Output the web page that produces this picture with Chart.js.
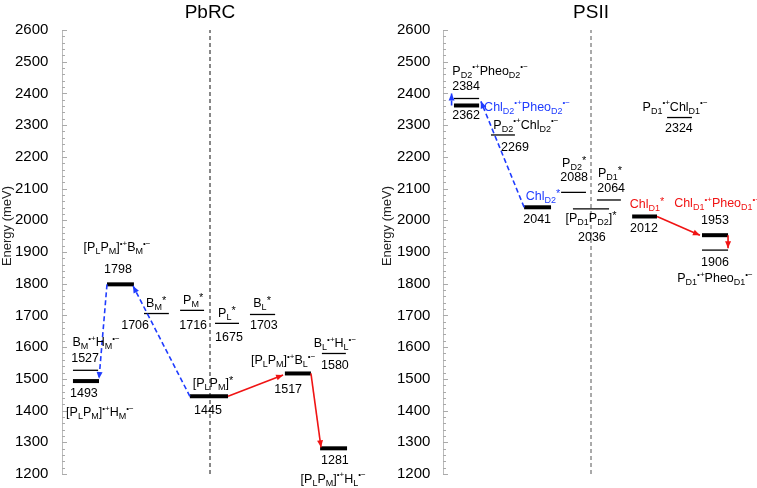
<!DOCTYPE html>
<html>
<head>
<meta charset="utf-8">
<script src="https://cdn.jsdelivr.net/npm/chart.js@4.4.1/dist/chart.umd.min.js"></script>
<style>
  body { margin: 0; background: #fff; }
  #wrap { position: relative; width: 757px; height: 488px; }
  canvas { position: absolute; top: 0; }
</style>
</head>
<body>
<div id="wrap">
  <canvas id="pbrc" width="380" height="488" style="left:0"></canvas>
  <canvas id="psii" width="377" height="488" style="left:380px"></canvas>
</div>
<script>
// ---- data ----
const yTicks = [1200, 1300, 1400, 1500, 1600, 1700, 1800, 1900, 2000, 2100, 2200, 2300, 2400, 2500, 2600];

const pbrcStates = [
    '[P_{L}P_{M}]^{•+}H_{M}^{•−}',
    'B_{M}^{•+}H_{M}^{•−}',
    '[P_{L}P_{M}]^{•+}B_{M}^{•−}',
    'B_{M}^{*}',
    'P_{M}^{*}',
    'P_{L}^{*}',
    'B_{L}^{*}',
    '[P_{L}P_{M}]^{*}',
    '[P_{L}P_{M}]^{•+}B_{L}^{•−}',
    'B_{L}^{•+}H_{L}^{•−}',
    '[P_{L}P_{M}]^{•+}H_{L}^{•−}'
];
const pbrcEnergy = [1493, 1527, 1798, 1706, 1716, 1675, 1703, 1445, 1517, 1580, 1281];

const psiiStates = [
    'P_{D2}^{•+}Pheo_{D2}^{•−}',
    'Chl_{D2}^{•+}Pheo_{D2}^{•−}',
    'P_{D2}^{•+}Chl_{D2}^{•−}',
    'Chl_{D2}^{*}',
    'P_{D2}^{*}',
    '[P_{D1}P_{D2}]^{*}',
    'P_{D1}^{*}',
    'Chl_{D1}^{*}',
    'P_{D1}^{•+}Chl_{D1}^{•−}',
    'Chl_{D1}^{•+}Pheo_{D1}^{•−}',
    'P_{D1}^{•+}Pheo_{D1}^{•−}'
];
const psiiEnergy = [2384, 2362, 2269, 2041, 2088, 2036, 2064, 2012, 2324, 1953, 1906];

// ---- layout (x positions on a 0..100 scale, label anchors) ----
const BLUE = '#1f3cff';
const RED = '#f01414';

const pbrcLayout = {
    cols: [[3.7, 12.5], [3.7, 12.2], [15.2, 24.3], [27.7, 36.1], [39.9, 48.0], [51.7, 59.8],
           [63.5, 72.0], [43.2, 56.1], [75.3, 84.1], [87.8, 95.9], [87.2, 96.3]],
    thick: [1, 0, 1, 0, 0, 0, 0, 1, 1, 0, 1],
    nameAt: [[12.8, 1393], [11.5, 1614], [18.6, 1914], [31.8, 1737], [44.3, 1747], [55.7, 1706],
             [67.6, 1737], [51.0, 1484], [74.7, 1557], [92.2, 1611], [91.6, 1184]],
    valueAt: [[7.4, 1453], [7.8, 1563], [18.9, 1845], [24.7, 1668], [44.3, 1668], [56.4, 1630],
              [68.2, 1668], [49.3, 1399], [76.4, 1465], [92.2, 1541], [92.2, 1241]],
    nameColor: [],
    // from state, side, to state, side, dx, dy
    arrows: [
        { a: 2, as: 0, b: 0, bs: 1, dx: 0, dy: 7, color: BLUE, dash: true },
        { a: 7, as: 0, b: 2, bs: 1, dx: -0.3, dy: -5, color: BLUE, dash: true },
        { a: 7, as: 1, b: 8, bs: 0, dx: -0.6, dy: -5, color: RED, dash: false },
        { a: 8, as: 1, b: 10, bs: 0, dx: 0.3, dy: 3, color: RED, dash: false }
    ],
    dashColor: '#111'
};

const psiiLayout = {
    cols: [[3.7, 12.2], [3.7, 12.2], [16.2, 24.3], [27.4, 36.5], [39.9, 48.3], [43.9, 56.1],
           [52.0, 60.1], [63.9, 72.3], [75.7, 84.1], [87.5, 96.3], [87.5, 96.3]],
    thick: [0, 1, 0, 1, 0, 0, 0, 1, 0, 1, 0],
    nameAt: [[15.9, 2470], [28.4, 2357], [28.0, 2300], [33.8, 2075], [44.3, 2180], [50.0, 2006],
             [56.4, 2148], [68.9, 2050], [78.4, 2357], [92.6, 2053], [91.9, 1816]],
    valueAt: [[7.8, 2423], [7.8, 2331], [24.3, 2230], [31.8, 2003], [44.3, 2135], [50.3, 1946],
              [56.8, 2101], [67.9, 1974], [79.7, 2290], [91.9, 2000], [91.9, 1867]],
    nameColor: [null, BLUE, null, BLUE, null, null, null, RED, null, RED, null],
    arrows: [
        { a: 3, as: 0, b: 1, bs: 1, dx: 0.6, dy: 13, color: BLUE, dash: true },
        { a: 1, as: 0, b: 1, bs: 0, dx: -0.8, dy: 38, dxa: -0.8, color: BLUE, dash: true },
        { a: 7, as: 1, b: 9, bs: 0, dx: -0.7, dy: 0, color: RED, dash: false },
        { a: 9, as: 1, b: 9, bs: 1, dx: 0, dy: -41, color: RED, dash: false }
    ],
    dashColor: '#555'
};

const FONT = '"Liberation Sans", Arial, sans-serif';

function richParts(s) {
    const parts = [];
    let i = 0;
    while (i < s.length) {
        if ((s[i] === '_' || s[i] === '^') && s[i + 1] === '{') {
            const j = s.indexOf('}', i);
            parts.push({ t: s.slice(i + 2, j), k: s[i] });
            i = j + 1;
        } else {
            let j = i;
            while (j < s.length && !((s[j] === '_' || s[j] === '^') && s[j + 1] === '{')) j++;
            parts.push({ t: s.slice(i, j), k: '' });
            i = j;
        }
    }
    return parts;
}

function drawRich(ctx, s, x, y, size, color) {
    const sub = Math.round(size * 0.7);
    const sup = Math.round(size * 0.62);
    const star = Math.round(size * 0.85);
    const fs = p => (p.k === '_' ? sub : p.k === '^' ? (p.t === '*' ? star : sup) : size);
    const parts = richParts(s);
    let total = 0;
    parts.forEach(p => {
        ctx.font = fs(p) + 'px ' + FONT;
        p.w = ctx.measureText(p.t).width;
        total += p.w;
    });
    let cx = x - total / 2;
    ctx.fillStyle = color;
    ctx.textAlign = 'left';
    ctx.textBaseline = 'middle';
    parts.forEach(p => {
        ctx.font = fs(p) + 'px ' + FONT;
        const dy = p.k === '_' ? size * 0.32 : p.k === '^' ? -size * (p.t === '*' ? 0.2 : 0.32) : 0;
        ctx.fillText(p.t, cx, y + dy);
        cx += p.w;
    });
}

const panelPlugin = {
    id: 'panel',
    afterDraw(chart) {
        const o = chart.options.plugins.panel;
        const { ctx } = chart;
        const xs = chart.scales.x, ys = chart.scales.y;
        const left = chart.chartArea.left;
        ctx.save();

        // inside ticks
        ctx.strokeStyle = '#aaa';
        ctx.lineWidth = 1;
        for (let v = ys.min; v <= ys.max; v += 20) {
            const py = Math.round(ys.getPixelForValue(v)) + 0.5;
            const len = v % 100 === 0 ? 5 : 3;
            ctx.beginPath();
            ctx.moveTo(left, py);
            ctx.lineTo(left + len, py);
            ctx.stroke();
        }

        // arrowheads
        chart.data.datasets.forEach((ds, i) => {
            if (!ds.arrow) return;
            const pts = chart.getDatasetMeta(i).data;
            const p0 = pts[0], p1 = pts[1];
            const ang = Math.atan2(p1.y - p0.y, p1.x - p0.x);
            const L = 7, W = 3;
            ctx.fillStyle = ds.borderColor;
            ctx.beginPath();
            ctx.moveTo(p1.x, p1.y);
            ctx.lineTo(p1.x - L * Math.cos(ang) + W * Math.sin(ang), p1.y - L * Math.sin(ang) - W * Math.cos(ang));
            ctx.lineTo(p1.x - L * Math.cos(ang) - W * Math.sin(ang), p1.y - L * Math.sin(ang) + W * Math.cos(ang));
            ctx.closePath();
            ctx.fill();
        });

        // state labels and energies
        o.states.forEach((s, i) => {
            const n = o.layout.nameAt[i], v = o.layout.valueAt[i];
            const col = o.layout.nameColor[i] || '#000';
            drawRich(ctx, s, xs.getPixelForValue(n[0]), ys.getPixelForValue(n[1]), 12.5, col);
            drawRich(ctx, String(o.energy[i]), xs.getPixelForValue(v[0]), ys.getPixelForValue(v[1]), 12.5, '#000');
        });

        // panel title
        ctx.fillStyle = '#000';
        ctx.font = '19px ' + FONT;
        ctx.textAlign = 'center';
        ctx.textBaseline = 'middle';
        ctx.fillText(o.title, xs.getPixelForValue(50), 13);

        // axis title
        ctx.save();
        ctx.translate(o.axisTitleX, 226);
        ctx.rotate(-Math.PI / 2);
        ctx.font = '13px ' + FONT;
        ctx.fillStyle = '#222';
        ctx.fillText('Energy (meV)', 0, 0);
        ctx.restore();

        ctx.restore();
    }
};

function makePanel(id, title, states, energy, layout, padLeft, axisWidth, padRight, axisTitleX) {
    const datasets = [];
    datasets.push({
        data: [{ x: 50, y: yTicks[0] }, { x: 50, y: yTicks[yTicks.length - 1] }],
        borderColor: layout.dashColor, borderWidth: 1, borderDash: [4, 3], order: 10
    });
    energy.forEach((e, i) => {
        const c = layout.cols[i];
        datasets.push({
            data: [{ x: c[0], y: e }, { x: c[1], y: e }],
            borderColor: '#000',
            borderWidth: layout.thick[i] ? 4 : 1.3,
            order: 1
        });
    });
    layout.arrows.forEach(a => {
        datasets.push({
            data: [
                { x: layout.cols[a.a][a.as] + (a.dxa || 0), y: energy[a.a] },
                { x: layout.cols[a.b][a.bs] + a.dx, y: energy[a.b] + a.dy }
            ],
            borderColor: a.color,
            borderWidth: 1.6,
            borderDash: a.dash ? [5, 3] : [],
            arrow: true,
            order: 0
        });
    });
    datasets.forEach(d => {
        d.showLine = true;
        d.pointRadius = 0;
        d.clip = false;
        d.borderCapStyle = 'butt';
    });

    return new Chart(document.getElementById(id), {
        type: 'scatter',
        data: { datasets: datasets },
        options: {
            responsive: false,
            animation: false,
            layout: { padding: { top: 30, bottom: 14, left: padLeft, right: padRight } },
            scales: {
                x: { type: 'linear', min: 0, max: 100, display: false },
                y: {
                    min: yTicks[0],
                    max: yTicks[yTicks.length - 1],
                    afterFit: s => { s.width = axisWidth; },
                    afterBuildTicks: s => { s.ticks = yTicks.map(v => ({ value: v })); },
                    ticks: {
                        padding: 0,
                        crossAlign: 'far',
                        color: '#000',
                        font: { family: FONT, size: 15 },
                        callback: v => String(v)
                    },
                    grid: { display: true, drawOnChartArea: false, drawTicks: false },
                    border: { display: true, color: '#bbb', width: 1 }
                }
            },
            plugins: {
                legend: { display: false },
                tooltip: { enabled: false },
                panel: { title: title, states: states, energy: energy, layout: layout, axisTitleX: axisTitleX }
            }
        },
        plugins: [panelPlugin]
    });
}

makePanel('pbrc', 'PbRC', pbrcStates, pbrcEnergy, pbrcLayout, 15, 47, 22, 7);
makePanel('psii', 'PSII', psiiStates, psiiEnergy, psiiLayout, 17, 46, 18, 7);
</script>
</body>
</html>
